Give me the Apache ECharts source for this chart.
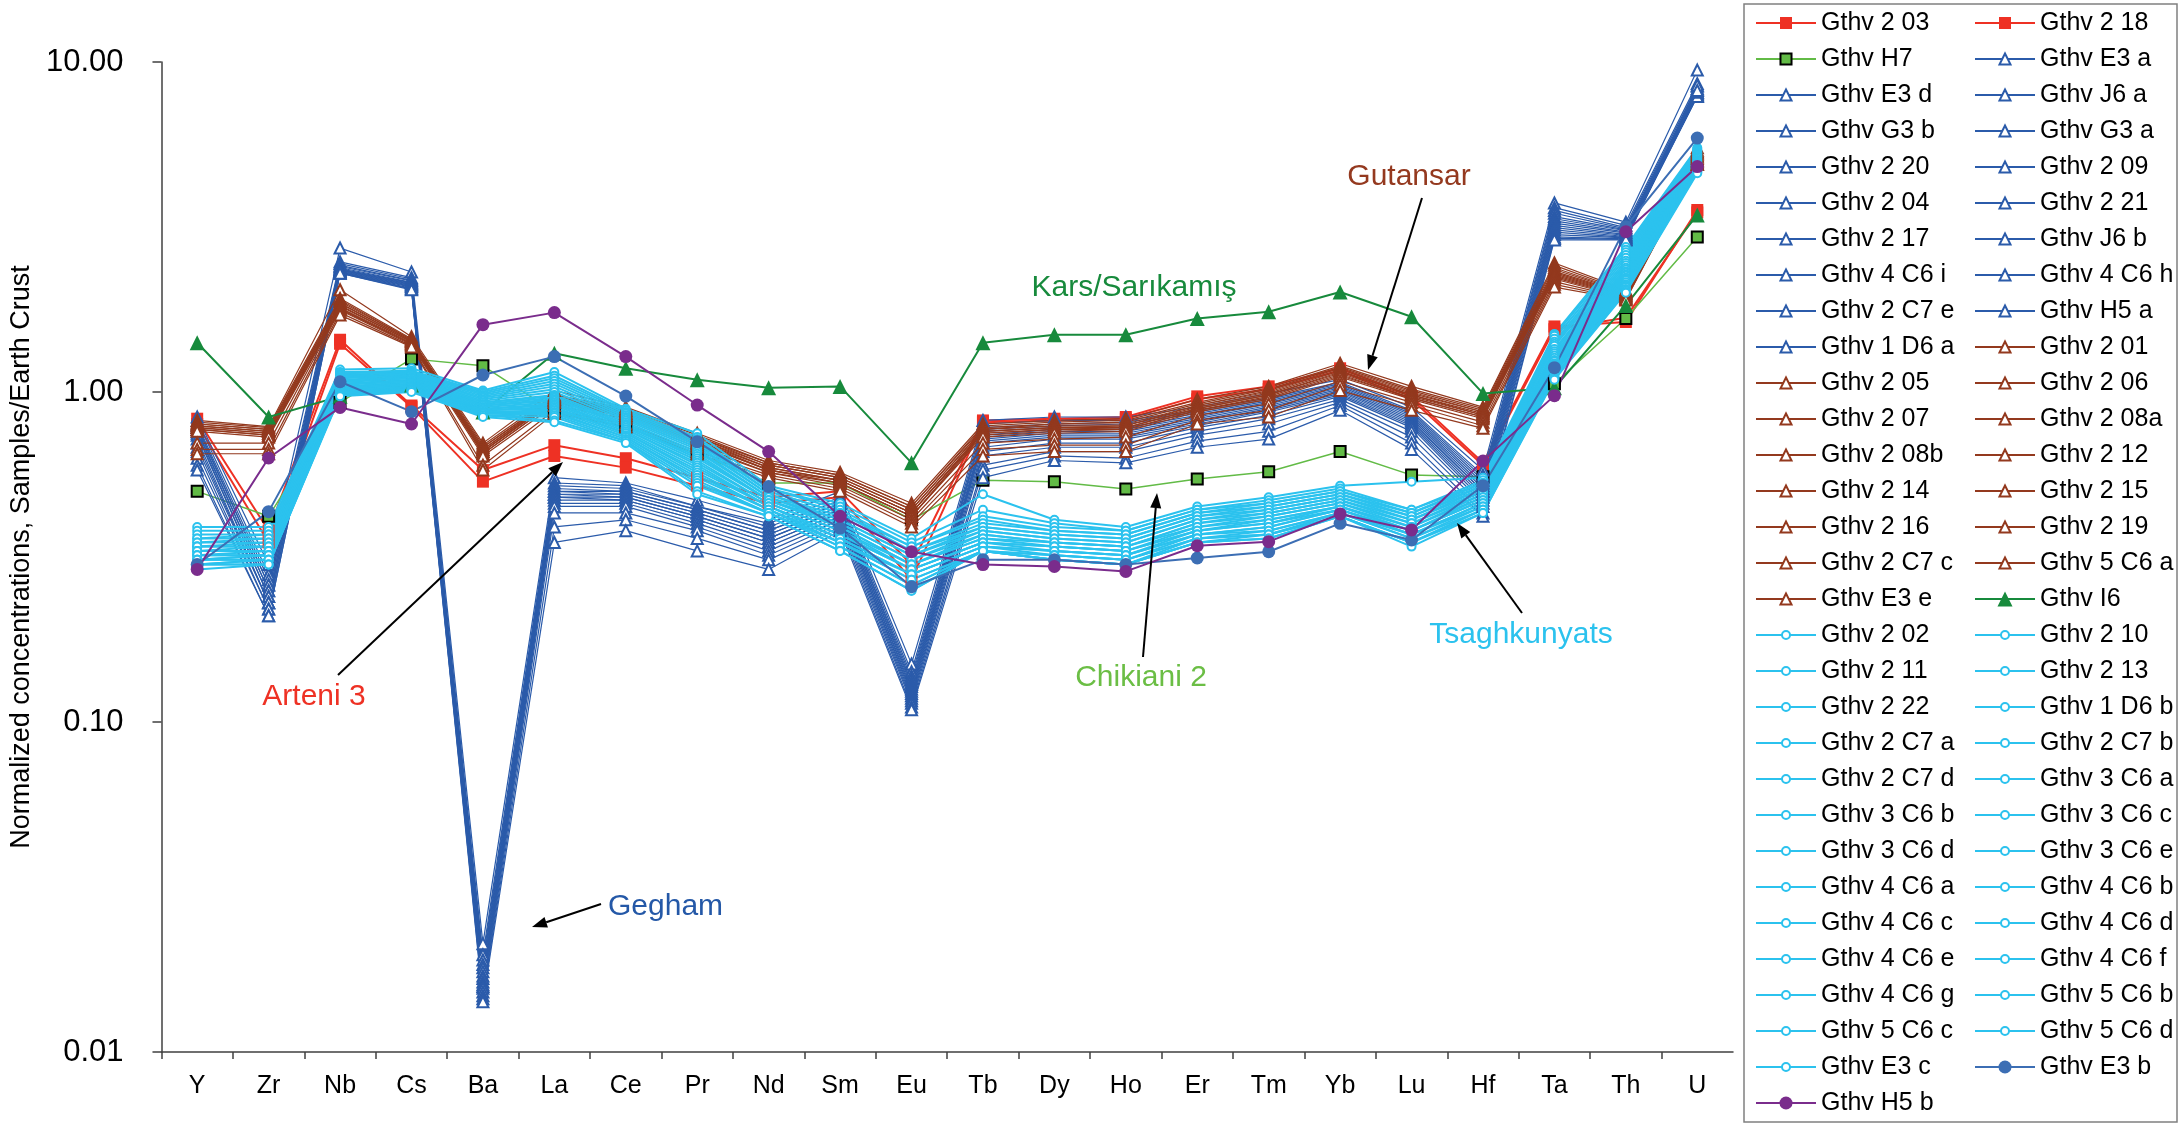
<!DOCTYPE html>
<html><head><meta charset="utf-8">
<script src="https://cdn.jsdelivr.net/npm/echarts@6/dist/echarts.min.js"></script>
<style>html,body{margin:0;padding:0;background:#fff}#c{width:2179px;height:1126px}</style>
</head><body><div id="c"></div>
<script>
// ---------------- DATA ----------------
const categories = ['Y','Zr','Nb','Cs','Ba','La','Ce','Pr','Nd','Sm','Eu','Tb','Dy','Ho','Er','Tm','Yb','Lu','Hf','Ta','Th','U'];
const yTicks = [0.01, 0.1, 1, 10];

// Arteni 3 (red squares)
const arteniNames = ['Gthv 2 03','Gthv 2 18'];
const arteniValues = [
  [0.83,0.38,1.44,0.91,0.58,0.69,0.63,0.55,0.48,0.50,0.30,0.82,0.83,0.84,0.97,1.04,1.18,0.97,0.61,1.58,1.63,3.56],
  [0.80,0.35,1.40,0.90,0.535,0.64,0.59,0.52,0.46,0.48,0.27,0.81,0.82,0.83,0.95,1.02,1.16,0.95,0.60,1.55,1.68,3.50]
];
// Chikiani 2
const chikianiNames = ['Gthv H7'];
const chikianiValues = [
  [0.50,0.42,0.93,1.26,1.20,0.87,0.785,0.65,0.53,0.53,0.41,0.54,0.535,0.508,0.545,0.573,0.66,0.56,0.554,1.06,1.67,2.95]
];
// Gegham (blue open triangles)
const geghamNames = ['Gthv E3 a','Gthv E3 d','Gthv J6 a','Gthv G3 b','Gthv G3 a','Gthv 2 20','Gthv 2 09','Gthv 2 04','Gthv 2 21','Gthv 2 17','Gthv J6 b','Gthv 4 C6 i','Gthv 4 C6 h','Gthv 2 C7 e','Gthv H5 a','Gthv 1 D6 a'];
const geghamValues = [
  [0.84,0.30,2.73,2.31,0.0213,0.55,0.53,0.47,0.41,0.50,0.150,0.82,0.84,0.84,0.90,0.99,1.09,0.90,0.58,3.74,3.27,9.45],
  [0.82,0.28,2.48,2.22,0.0197,0.53,0.52,0.45,0.40,0.48,0.142,0.80,0.82,0.82,0.88,0.96,1.07,0.88,0.56,3.62,3.20,8.60],
  [0.80,0.27,2.45,2.20,0.0190,0.52,0.51,0.45,0.39,0.47,0.138,0.78,0.80,0.81,0.87,0.95,1.06,0.87,0.55,3.55,3.15,8.45],
  [0.79,0.26,2.42,2.18,0.0184,0.51,0.50,0.44,0.38,0.46,0.135,0.77,0.79,0.80,0.86,0.94,1.05,0.86,0.54,3.48,3.12,8.30],
  [0.78,0.26,2.40,2.17,0.0180,0.50,0.50,0.44,0.38,0.46,0.132,0.76,0.78,0.78,0.85,0.93,1.04,0.85,0.53,3.40,3.10,8.20],
  [0.77,0.25,2.38,2.15,0.0175,0.50,0.49,0.43,0.37,0.45,0.130,0.74,0.77,0.77,0.84,0.92,1.03,0.84,0.52,3.35,3.08,8.10],
  [0.76,0.25,2.36,2.14,0.0170,0.49,0.49,0.43,0.37,0.45,0.128,0.73,0.76,0.76,0.83,0.91,1.02,0.83,0.51,3.30,3.05,8.05],
  [0.75,0.24,2.35,2.13,0.0167,0.49,0.48,0.42,0.36,0.44,0.126,0.72,0.75,0.75,0.82,0.90,1.01,0.82,0.50,3.25,3.03,8.00],
  [0.74,0.24,2.34,2.12,0.0163,0.48,0.48,0.42,0.36,0.44,0.124,0.71,0.74,0.74,0.81,0.89,1.00,0.81,0.50,3.20,3.00,7.95],
  [0.72,0.23,2.33,2.11,0.0160,0.48,0.47,0.41,0.35,0.43,0.122,0.70,0.73,0.73,0.80,0.88,0.99,0.80,0.49,3.15,2.98,7.90],
  [0.70,0.23,2.32,2.10,0.0158,0.47,0.47,0.41,0.35,0.43,0.120,0.68,0.72,0.72,0.79,0.87,0.98,0.79,0.48,3.10,2.96,7.88],
  [0.68,0.23,2.31,2.09,0.0156,0.46,0.46,0.40,0.34,0.42,0.118,0.66,0.70,0.70,0.78,0.85,0.97,0.78,0.47,3.05,2.94,7.86],
  [0.66,0.22,2.30,2.08,0.0152,0.45,0.45,0.39,0.33,0.41,0.116,0.64,0.68,0.68,0.76,0.83,0.95,0.76,0.46,3.00,2.93,8.10],
  [0.63,0.22,2.30,2.06,0.0148,0.43,0.43,0.38,0.32,0.40,0.114,0.60,0.66,0.66,0.74,0.80,0.93,0.73,0.45,2.95,2.91,8.30],
  [0.60,0.21,2.29,2.05,0.0145,0.39,0.41,0.36,0.31,0.39,0.111,0.58,0.64,0.63,0.71,0.76,0.91,0.70,0.43,2.92,2.90,8.50],
  [0.58,0.21,2.29,2.04,0.0142,0.35,0.38,0.33,0.29,0.38,0.109,0.55,0.62,0.61,0.68,0.72,0.88,0.67,0.42,2.89,2.89,8.20]
];
// Gutansar (brown open triangles)
const gutansarNames = ['Gthv 2 01','Gthv 2 05','Gthv 2 06','Gthv 2 07','Gthv 2 08a','Gthv 2 08b','Gthv 2 12','Gthv 2 14','Gthv 2 15','Gthv 2 16','Gthv 2 19','Gthv 2 C7 c','Gthv 5 C6 a','Gthv E3 e'];
const gutansarValues = [
  [0.82,0.785,2.04,1.47,0.70,1.01,0.90,0.75,0.62,0.57,0.46,0.80,0.82,0.83,0.95,1.04,1.22,1.04,0.90,2.46,2.04,5.50],
  [0.81,0.78,1.92,1.45,0.69,0.98,0.89,0.74,0.61,0.56,0.45,0.79,0.81,0.82,0.93,1.03,1.20,1.02,0.89,2.42,2.02,5.40],
  [0.80,0.77,1.90,1.44,0.68,0.97,0.88,0.73,0.61,0.56,0.45,0.78,0.80,0.81,0.92,1.02,1.19,1.01,0.88,2.38,2.01,5.35],
  [0.80,0.77,1.88,1.44,0.68,0.96,0.88,0.73,0.60,0.55,0.44,0.77,0.80,0.80,0.91,1.01,1.18,1.00,0.87,2.35,2.00,5.30],
  [0.79,0.76,1.86,1.43,0.67,0.96,0.87,0.72,0.60,0.55,0.44,0.77,0.79,0.79,0.91,1.00,1.17,0.99,0.87,2.32,1.99,5.25],
  [0.79,0.76,1.85,1.43,0.67,0.95,0.87,0.72,0.59,0.54,0.43,0.76,0.78,0.79,0.90,0.99,1.16,0.98,0.86,2.30,1.98,5.20],
  [0.78,0.75,1.83,1.42,0.66,0.95,0.86,0.71,0.59,0.54,0.43,0.76,0.78,0.78,0.89,0.98,1.15,0.98,0.85,2.28,1.97,5.15],
  [0.78,0.75,1.82,1.42,0.66,0.94,0.86,0.71,0.58,0.54,0.43,0.75,0.77,0.78,0.89,0.98,1.14,0.97,0.85,2.26,1.96,5.10],
  [0.77,0.74,1.80,1.41,0.66,0.94,0.85,0.70,0.58,0.53,0.42,0.75,0.77,0.77,0.88,0.97,1.13,0.96,0.84,2.24,1.95,5.05],
  [0.77,0.74,1.79,1.40,0.65,0.93,0.85,0.70,0.58,0.53,0.42,0.74,0.76,0.77,0.88,0.96,1.12,0.96,0.84,2.22,1.94,5.00],
  [0.76,0.73,1.78,1.40,0.65,0.93,0.84,0.69,0.57,0.53,0.42,0.73,0.75,0.76,0.87,0.95,1.11,0.95,0.83,2.20,1.93,4.95],
  [0.70,0.70,1.77,1.39,0.64,0.91,0.83,0.68,0.57,0.52,0.41,0.70,0.72,0.73,0.85,0.92,1.08,0.93,0.81,2.16,1.92,4.90],
  [0.67,0.67,1.74,1.38,0.60,0.88,0.80,0.66,0.56,0.51,0.40,0.67,0.69,0.69,0.82,0.88,1.05,0.91,0.79,2.12,1.91,4.90],
  [0.65,0.65,1.71,1.37,0.58,0.86,0.785,0.65,0.55,0.50,0.39,0.64,0.66,0.66,0.80,0.84,1.01,0.88,0.776,2.08,1.90,4.90]
];
// Kars/Sarikamis
const karsNames = ['Gthv I6'];
const karsValues = [
  [1.41,0.84,0.97,1.05,0.87,1.31,1.18,1.09,1.03,1.04,0.61,1.41,1.49,1.49,1.67,1.75,2.01,1.69,0.99,1.03,1.83,3.44]
];
// Tsaghkunyats (cyan open circles)
const tsaghNames = ['Gthv 2 02','Gthv 2 10','Gthv 2 11','Gthv 2 13','Gthv 2 22','Gthv 1 D6 b','Gthv 2 C7 a','Gthv 2 C7 b','Gthv 2 C7 d','Gthv 3 C6 a','Gthv 3 C6 b','Gthv 3 C6 c','Gthv 3 C6 d','Gthv 3 C6 e','Gthv 4 C6 a','Gthv 4 C6 b','Gthv 4 C6 c','Gthv 4 C6 d','Gthv 4 C6 e','Gthv 4 C6 f','Gthv 4 C6 g','Gthv 5 C6 b','Gthv 5 C6 c','Gthv 5 C6 d','Gthv E3 c'];
const tsaghValues = [
  [0.39,0.39,1.17,1.18,1.01,1.15,0.89,0.75,0.52,0.46,0.36,0.49,0.41,0.39,0.45,0.48,0.52,0.535,0.55,1.50,2.75,5.50],
  [0.38,0.38,1.15,1.16,1.00,1.12,0.88,0.73,0.51,0.45,0.35,0.44,0.40,0.38,0.44,0.47,0.51,0.44,0.54,1.48,2.70,5.45],
  [0.37,0.37,1.14,1.15,0.99,1.10,0.87,0.72,0.51,0.44,0.34,0.42,0.39,0.38,0.44,0.46,0.50,0.44,0.53,1.45,2.65,5.40],
  [0.36,0.37,1.13,1.14,0.98,1.08,0.86,0.71,0.50,0.43,0.34,0.41,0.38,0.37,0.43,0.46,0.50,0.43,0.53,1.42,2.60,5.35],
  [0.36,0.36,1.12,1.13,0.97,1.06,0.85,0.70,0.50,0.43,0.33,0.40,0.38,0.37,0.43,0.45,0.49,0.43,0.52,1.40,2.55,5.30],
  [0.35,0.36,1.11,1.12,0.96,1.04,0.84,0.69,0.49,0.42,0.33,0.39,0.37,0.36,0.42,0.45,0.49,0.42,0.52,1.38,2.50,5.25],
  [0.35,0.35,1.10,1.12,0.95,1.02,0.83,0.68,0.49,0.41,0.32,0.39,0.37,0.36,0.42,0.44,0.48,0.42,0.51,1.35,2.46,5.20],
  [0.34,0.35,1.09,1.11,0.94,1.00,0.82,0.67,0.48,0.41,0.32,0.38,0.36,0.35,0.41,0.44,0.48,0.41,0.51,1.33,2.42,5.15],
  [0.34,0.34,1.08,1.10,0.93,0.98,0.81,0.66,0.48,0.40,0.31,0.38,0.36,0.35,0.41,0.43,0.47,0.41,0.50,1.31,2.38,5.10],
  [0.34,0.34,1.07,1.10,0.93,0.97,0.80,0.65,0.47,0.40,0.31,0.37,0.35,0.34,0.40,0.43,0.47,0.40,0.50,1.29,2.35,5.05],
  [0.33,0.34,1.06,1.09,0.92,0.96,0.79,0.64,0.47,0.39,0.30,0.37,0.35,0.34,0.40,0.42,0.46,0.40,0.49,1.27,2.32,5.00],
  [0.33,0.33,1.06,1.08,0.91,0.95,0.79,0.63,0.47,0.39,0.30,0.36,0.35,0.34,0.39,0.42,0.46,0.39,0.49,1.25,2.30,4.95],
  [0.33,0.33,1.05,1.08,0.91,0.94,0.78,0.62,0.46,0.38,0.30,0.36,0.34,0.33,0.39,0.41,0.45,0.39,0.48,1.24,2.27,4.92],
  [0.32,0.33,1.04,1.07,0.90,0.93,0.77,0.61,0.46,0.38,0.29,0.35,0.34,0.33,0.38,0.41,0.45,0.38,0.48,1.22,2.25,4.90],
  [0.32,0.32,1.03,1.06,0.89,0.92,0.77,0.60,0.45,0.37,0.29,0.35,0.34,0.33,0.38,0.40,0.45,0.38,0.47,1.21,2.22,4.87],
  [0.32,0.32,1.03,1.06,0.89,0.91,0.76,0.59,0.45,0.37,0.29,0.35,0.33,0.32,0.38,0.40,0.44,0.38,0.47,1.19,2.20,4.85],
  [0.31,0.32,1.02,1.05,0.88,0.90,0.75,0.58,0.45,0.36,0.28,0.34,0.33,0.32,0.37,0.39,0.44,0.37,0.46,1.18,2.18,4.82],
  [0.31,0.32,1.01,1.04,0.88,0.89,0.75,0.57,0.44,0.36,0.28,0.34,0.33,0.32,0.37,0.39,0.44,0.37,0.46,1.17,2.15,4.80],
  [0.31,0.31,1.01,1.04,0.87,0.88,0.74,0.56,0.44,0.35,0.28,0.34,0.32,0.31,0.37,0.38,0.43,0.37,0.45,1.16,2.12,4.77],
  [0.31,0.31,1.00,1.03,0.87,0.87,0.73,0.55,0.44,0.35,0.27,0.33,0.32,0.31,0.36,0.38,0.43,0.36,0.45,1.15,2.10,4.75],
  [0.30,0.31,1.00,1.02,0.86,0.86,0.73,0.54,0.43,0.35,0.27,0.33,0.32,0.31,0.36,0.37,0.43,0.36,0.44,1.14,2.08,4.72],
  [0.30,0.31,0.99,1.02,0.86,0.85,0.72,0.53,0.43,0.34,0.26,0.33,0.31,0.30,0.36,0.37,0.42,0.35,0.44,1.12,2.05,4.70],
  [0.30,0.30,0.98,1.01,0.85,0.84,0.71,0.52,0.43,0.34,0.26,0.33,0.31,0.30,0.35,0.37,0.42,0.35,0.44,1.11,2.03,4.67],
  [0.30,0.30,0.98,1.01,0.85,0.82,0.71,0.50,0.42,0.33,0.25,0.33,0.31,0.30,0.35,0.36,0.42,0.35,0.43,1.10,2.01,4.64],
  [0.29,0.30,0.97,1.00,0.84,0.81,0.70,0.49,0.42,0.33,0.25,0.33,0.31,0.30,0.35,0.36,0.42,0.34,0.43,1.09,2.00,4.60]
];
// Single samples
const e3bNames = ['Gthv E3 b'];
const e3bValues = [
  [0.30,0.434,1.074,0.872,1.126,1.28,0.972,0.707,0.517,0.387,0.257,0.31,0.31,0.30,0.314,0.328,0.40,0.356,0.52,1.185,3.17,5.88]
];
const h5bNames = ['Gthv H5 b'];
const h5bValues = [
  [0.29,0.631,0.898,0.80,1.60,1.74,1.28,0.913,0.66,0.42,0.328,0.30,0.296,0.286,0.342,0.352,0.427,0.382,0.618,0.975,3.06,4.82]
];

// ---------------- STYLE ----------------
const FONT = 'Liberation Sans, Arial, sans-serif';
const groups = [
  {names: arteniNames, values: arteniValues, symbol: 'rect', size: 12, color: '#EE3124', width: 2},
  {names: chikianiNames, values: chikianiValues, symbol: 'rect', size: 11, color: '#62BB46', width: 1.5, border: '#000000'},
  {names: geghamNames, values: geghamValues, symbol: 'emptyTriangle', size: 11, color: '#2B5BAA', width: 1.2},
  {names: gutansarNames, values: gutansarValues, symbol: 'emptyTriangle', size: 11, color: '#93391E', width: 1.2},
  {names: karsNames, values: karsValues, symbol: 'triangle', size: 15, color: '#178A3C', width: 2},
  {names: tsaghNames, values: tsaghValues, symbol: 'emptyCircle', size: 8, color: '#2BC2EE', width: 2},
  {names: e3bNames, values: e3bValues, symbol: 'circle', size: 13, color: '#3C6EB4', width: 2},
  {names: h5bNames, values: h5bValues, symbol: 'circle', size: 13, color: '#7A2C8C', width: 2}
];

const series = [];
const legendItems = [];
groups.forEach(g => {
  g.names.forEach((name, i) => {
    const itemStyle = {color: g.color};
    if (g.border) { itemStyle.borderColor = g.border; itemStyle.borderWidth = 2; }
    else if (g.symbol.indexOf('empty') === 0) { itemStyle.borderWidth = 1.5; }
    series.push({
      name: name, type: 'line', data: g.values[i],
      symbol: g.symbol, symbolSize: g.size, showAllSymbol: true,
      lineStyle: {color: g.color, width: g.width},
      itemStyle: itemStyle,
      emphasis: {disabled: true},
      animation: false
    });
    const li = {name: name};
    if (g.border) li.itemStyle = {borderColor: g.border, borderWidth: 2};
    legendItems.push({item: li, h: Math.round(g.size / 0.8 * 10) / 10});
  });
});

// two-column legend, split into segments by symbol size
const ROW = 36, LINE_H = 25;
const legends = [];
[{x: 1755, start: 0}, {x: 1974, start: 1}].forEach(col => {
  let seg = null, row = 0;
  for (let i = col.start; i < legendItems.length; i += 2, row++) {
    const it = legendItems[i];
    if (!seg || seg.itemHeight !== it.h) {
      seg = {
        orient: 'vertical', left: col.x, top: 23 - LINE_H / 2 + row * ROW,
        padding: 0, itemWidth: 60, itemHeight: it.h, itemGap: ROW - LINE_H,
        textStyle: {fontSize: 25, lineHeight: LINE_H, color: '#000', fontFamily: FONT},
        data: []
      };
      legends.push(seg);
    }
    seg.data.push(it.item);
  }
});

// annotations (labels and arrows)
function arrow(x1, y1, x2, y2) {
  const ang = Math.atan2(y2 - y1, x2 - x1), L = 15, W = 5.5;
  const bx = x2 - L * Math.cos(ang), by = y2 - L * Math.sin(ang);
  const px = -Math.sin(ang) * W, py = Math.cos(ang) * W;
  return [
    {type: 'line', shape: {x1: x1, y1: y1, x2: bx, y2: by}, style: {stroke: '#000', lineWidth: 2}, z: 100},
    {type: 'polygon', shape: {points: [[x2, y2], [bx + px, by + py], [bx - px, by - py]]}, style: {fill: '#000'}, z: 100}
  ];
}
function label(text, x, y, color, align) {
  return {type: 'text', x: x, y: y, z: 100,
    style: {text: text, fill: color, font: '30px ' + FONT, textAlign: align || 'center', textVerticalAlign: 'middle'}};
}
const graphics = [
  {type: 'rect', shape: {x: 1744, y: 4, width: 433, height: 1118}, style: {fill: 'none', stroke: '#808080', lineWidth: 1.5}, z: 0},
  label('Gutansar', 1409, 177, '#94391F'),
  ...arrow(1422, 198, 1368, 370),
  label('Kars/Sarıkamış', 1134, 288, '#178A3C'),
  label('Arteni 3', 314, 697, '#EE3124'),
  ...arrow(338, 675, 563, 462),
  label('Gegham', 608, 907, '#2458A7', 'left'),
  ...arrow(601, 904, 532, 927),
  label('Chikiani 2', 1141, 678, '#6BBE45'),
  ...arrow(1143, 657, 1157, 493),
  label('Tsaghkunyats', 1521, 635, '#2BC2EE'),
  ...arrow(1522, 613, 1457, 523)
];

const chart = echarts.init(document.getElementById('c'), null, {renderer: 'canvas'});
chart.setOption({
  animation: false,
  backgroundColor: '#ffffff',
  grid: {left: 146, right: 446, top: 62, bottom: 74, containLabel: false},
  xAxis: {
    type: 'category', data: categories, boundaryGap: true,
    axisLine: {lineStyle: {color: '#404040', width: 1.5}},
    axisTick: {show: true, interval: 0, length: 7, lineStyle: {color: '#404040', width: 1.5}},
    axisLabel: {interval: 0, fontSize: 25, color: '#000', margin: 22, fontFamily: FONT},
    splitLine: {show: false}
  },
  yAxis: {
    type: 'log', logBase: 10, min: yTicks[0], max: yTicks[yTicks.length - 1], splitNumber: 3,
    name: 'Normalized concentrations, Samples/Earth Crust',
    nameLocation: 'middle', nameGap: 104,
    nameTextStyle: {fontSize: 27, color: '#000', fontFamily: FONT},
    axisLine: {show: true, lineStyle: {color: '#404040', width: 1.5}},
    axisTick: {show: true, length: 9, lineStyle: {color: '#404040', width: 1.5}},
    axisLabel: {fontSize: 31, color: '#000', margin: 38, fontFamily: FONT,
      formatter: v => Number(v).toFixed(2)},
    splitLine: {show: false}, minorTick: {show: false}
  },
  legend: legends,
  series: series,
  graphic: graphics
});
</script>
</body></html>
